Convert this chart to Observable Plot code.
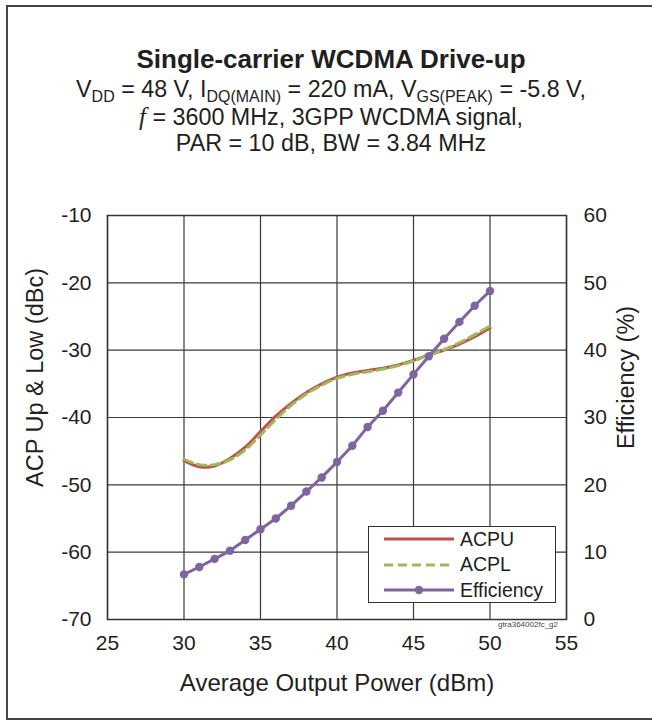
<!DOCTYPE html>
<html>
<head>
<meta charset="utf-8">
<script src="https://cdn.jsdelivr.net/npm/d3@7"></script>
<script src="https://cdn.jsdelivr.net/npm/@observablehq/plot@0.6"></script>
<style>
  html, body { margin: 0; padding: 0; background: #fff; }
  body { font-family: "Liberation Sans", Arial, sans-serif; color: #231f20; }
  #page { position: relative; width: 652px; height: 724px; overflow: hidden; }
  #border { position: absolute; left: 6px; top: 5px; width: 660px; height: 715px; border: 2px solid #444; box-sizing: border-box; }
  #titles { position: absolute; left: 0; top: 44px; width: 662px; text-align: center; }
  #title { font-weight: bold; font-size: 26px; line-height: 30px; }
  .sub { font-size: 23.3px; line-height: 27px; height: 27px; }
  .sub sub { font-size: 16px; vertical-align: -5px; line-height: 0; }
  .sub i { font-family: "Liberation Serif", "DejaVu Serif", serif; font-size: 25px; }
  #chart { position: absolute; left: 0; top: 170px; }
  #legend { position: absolute; left: 368px; top: 526px; width: 188px; height: 77px; background: #fff; border: 1.5px solid #333; box-sizing: border-box; }
  .item { position: absolute; left: 0; height: 24px; display: flex; align-items: center; font-size: 19.5px; }
  .item svg { margin-left: 15px; margin-right: 6px; }
  #code { position: absolute; left: 470px; top: 620px; width: 88px; text-align: right; font-size: 8px; color: #444; }
</style>
</head>
<body>
<div id="page">
  <div id="border"></div>
  <div id="titles">
    <div id="title">Single-carrier WCDMA Drive-up</div>
    <div class="sub" style="margin-top:2px">V<sub>DD</sub> = 48 V, I<sub>DQ(MAIN)</sub> = 220 mA, V<sub>GS(PEAK)</sub> = -5.8 V,</div>
    <div class="sub"><i>f</i> = 3600 MHz, 3GPP WCDMA signal,</div>
    <div class="sub">PAR = 10 dB, BW = 3.84 MHz</div>
  </div>
  <div id="chart"></div>
  <div id="legend"></div>
  <div id="code">gtra364002fc_g2</div>
</div>
<script>
// ---- data ----
const power = [30,31,32,33,34,35,36,37,38,39,40,41,42,43,44,45,46,47,48,49,50];
const acpu  = [-46.4,-47.3,-47.2,-46.1,-44.4,-42.1,-39.8,-37.9,-36.3,-35.0,-34.0,-33.4,-33.0,-32.7,-32.2,-31.5,-30.7,-30.0,-29.1,-28.0,-26.7];
const acpl  = [-46.2,-47.0,-47.0,-46.3,-44.8,-42.6,-40.3,-38.2,-36.5,-35.2,-34.2,-33.6,-33.2,-32.8,-32.3,-31.6,-30.7,-29.9,-28.9,-27.7,-26.4];
const efficiency = [6.7,7.8,9.0,10.2,11.8,13.4,15.0,16.9,19.0,21.1,23.4,25.8,28.6,31.0,33.7,36.4,39.1,41.7,44.2,46.6,48.8];
const xTicks = [25,30,35,40,45,50,55];
const yTicks = [-70,-60,-50,-40,-30,-20,-10];
const effTicks = [0,10,20,30,40,50,60];
const seriesNames = ["ACPU","ACPL","Efficiency"];
const colors = {ACPU: "#c0504d", ACPL: "#9bbb59", Efficiency: "#8064a2"};

// efficiency (0..60 %) shares the ACP axis (-70..-10 dBc)
const effOffset = -70;
const rows = power.map((p, i) => ({p, acpu: acpu[i], acpl: acpl[i], eff: efficiency[i]}));

const font = "Liberation Sans, Arial, sans-serif";
const chart = Plot.plot({
  width: 652,
  height: 549,
  marginLeft: 107,
  marginRight: 86,
  marginTop: 45,
  marginBottom: 100,
  style: {fontFamily: font, fontSize: "21px", color: "#231f20", background: "transparent", overflow: "visible"},
  x: {domain: [25, 55]},
  y: {domain: [-70, -10]},
  marks: [
    Plot.gridX(xTicks, {stroke: "#3a3a3a", strokeOpacity: 1, strokeWidth: 1.2}),
    Plot.gridY(yTicks, {stroke: "#3a3a3a", strokeOpacity: 1, strokeWidth: 1.2}),
    Plot.frame({stroke: "#333", strokeWidth: 1.5}),
    Plot.axisX(xTicks, {tickSize: 0, tickPadding: 16, fontSize: 21, label: null, tickFormat: d => String(d)}),
    Plot.axisY(yTicks, {anchor: "left", tickSize: 0, tickPadding: 16, fontSize: 21, label: null, tickFormat: d => String(d)}),
    Plot.axisY(effTicks.map(d => d + effOffset), {anchor: "right", tickSize: 0, tickPadding: 17, fontSize: 21, tickFormat: d => String(d - effOffset), label: null}),
    Plot.text(["Average Output Power (dBm)"], {frameAnchor: "bottom", dy: 71, fontSize: 24, fill: "#231f20", textAnchor: "middle"}),
    Plot.text(["ACP Up & Low (dBc)"], {frameAnchor: "left", dx: -72, dy: -40, rotate: -90, fontSize: 23.5, fill: "#231f20", textAnchor: "middle"}),
    Plot.text(["Efficiency (%)"], {frameAnchor: "right", dx: 60, dy: -40, rotate: -90, fontSize: 23.5, fill: "#231f20", textAnchor: "middle"}),
    Plot.line(rows, {x: "p", y: "acpu", stroke: colors.ACPU, strokeWidth: 3, curve: "catmull-rom"}),
    Plot.line(rows, {x: "p", y: "acpl", stroke: colors.ACPL, strokeWidth: 3, strokeDasharray: "9,5", curve: "catmull-rom"}),
    Plot.line(rows, {x: "p", y: d => d.eff + effOffset, stroke: colors.Efficiency, strokeWidth: 3}),
    Plot.dot(rows, {x: "p", y: d => d.eff + effOffset, r: 4.2, fill: colors.Efficiency, stroke: "none"})
  ]
});
document.getElementById("chart").appendChild(chart);

// legend
const legend = document.getElementById("legend");
seriesNames.forEach((name, i) => {
  const item = document.createElement("div");
  item.className = "item";
  item.style.top = (0 + i * 25.5) + "px";
  const dash = name === "ACPL" ? ' stroke-dasharray="9,5"' : "";
  const dot = name === "Efficiency" ? `<circle cx="35" cy="6" r="4.2" fill="${colors[name]}"/>` : "";
  item.innerHTML = `<svg width="70" height="12"><line x1="0" x2="70" y1="6" y2="6" stroke="${colors[name]}" stroke-width="3"${dash}/>${dot}</svg><span>${name}</span>`;
  legend.appendChild(item);
});
</script>
</body>
</html>
